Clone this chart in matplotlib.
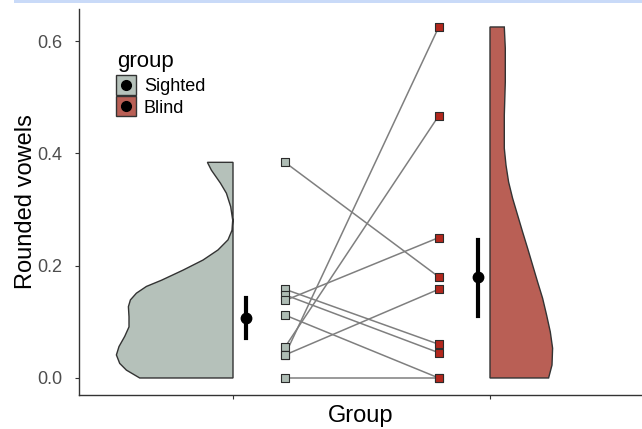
import matplotlib
matplotlib.use("Agg")
import matplotlib.pyplot as plt
from matplotlib.patches import Rectangle
from matplotlib.lines import Line2D
import numpy as np

plt.rcParams['font.family'] = ['Liberation Sans', 'DejaVu Sans']

# ---- data ----
groups = ["Sighted", "Blind"]
sighted = [0.384, 0.158, 0.148, 0.138, 0.112, 0.055, 0.041, 0.041, 0.0]
blind = [0.180, 0.060, 0.045, 0.250, 0.000, 0.467, 0.625, 0.158, 0.0]

sighted_mean, sighted_lo, sighted_hi = 0.106, 0.071, 0.142
blind_mean, blind_lo, blind_hi = 0.179, 0.110, 0.246

# half-violin density profiles (value, relative width)
sighted_dens_y = [0.0, 0.014, 0.026, 0.041, 0.056, 0.074, 0.091, 0.109, 0.127, 0.139,
                  0.151, 0.163, 0.174, 0.192, 0.210, 0.228, 0.246, 0.263, 0.281,
                  0.305, 0.329, 0.347, 0.370, 0.384]
sighted_dens_w = [93.3, 106.6, 113.3, 116.6, 114.0, 108.3, 104.0, 104.0, 104.6, 102.6,
                  96.6, 86.6, 71.6, 50.0, 30.0, 15.0, 5.0, 1.0, 0.3,
                  2.3, 6.6, 12.6, 21.6, 25.6]
blind_dens_y = [0.0, 0.023, 0.053, 0.082, 0.112, 0.142, 0.171, 0.201, 0.231, 0.260,
                0.290, 0.320, 0.349, 0.379, 0.409, 0.468, 0.527, 0.587, 0.625]
blind_dens_w = [58.6, 62.0, 62.6, 60.3, 56.6, 52.6, 47.6, 42.6, 37.6, 32.6,
                27.6, 22.6, 18.6, 16.0, 14.3, 14.3, 15.3, 15.3, 14.3]

yticks = [0.0, 0.2, 0.4, 0.6]

# ---- style ----
c_sighted_v = "#b5c1ba"
c_blind_v = "#b95f55"
c_sighted_p = "#aebcb4"
c_blind_p = "#b3271d"
px_per_unit = 257.0

fig = plt.figure(figsize=(6.42, 4.29), dpi=100)
ax = fig.add_axes([79 / 642, 1 - 395 / 429, 1 - 79 / 642, (395 - 9) / 429])

x_s, x_b = 1.0, 2.0
off_pts = 52 / px_per_unit
off_mean = 12.5 / px_per_unit

# violins
sy = np.array(sighted_dens_y)
sw = np.array(sighted_dens_w) / px_per_unit
ax.fill(np.concatenate([[x_s], x_s - sw, [x_s]]),
        np.concatenate([[sy[0]], sy, [sy[-1]]]),
        facecolor=c_sighted_v, edgecolor="#333333", linewidth=1.0, zorder=2)
by = np.array(blind_dens_y)
bw = np.array(blind_dens_w) / px_per_unit
ax.fill(np.concatenate([[x_b], x_b + bw, [x_b]]),
        np.concatenate([[by[0]], by, [by[-1]]]),
        facecolor=c_blind_v, edgecolor="#333333", linewidth=1.0, zorder=2)

# paired lines
xs_pt = x_s + off_pts
xb_pt = x_b - off_pts + 0.003
for a, b in zip(sighted, blind):
    ax.plot([xs_pt, xb_pt], [a, b], color="#7f7f7f", linewidth=1.1, zorder=3)

ax.scatter([xs_pt] * len(sighted), sighted, marker="s", s=30, facecolor=c_sighted_p,
           edgecolor="#2b2b2b", linewidth=0.8, zorder=4)
ax.scatter([xb_pt] * len(blind), blind, marker="s", s=30, facecolor=c_blind_p,
           edgecolor="#2b2b2b", linewidth=0.8, zorder=4)

# means with error bars
ax.plot([x_s + off_mean] * 2, [sighted_lo, sighted_hi], color="black", linewidth=3, zorder=5)
ax.plot([x_s + off_mean], [sighted_mean], "o", color="black", markersize=7.5, zorder=5)
ax.plot([x_b - off_mean] * 2, [blind_lo, blind_hi], color="black", linewidth=3, zorder=5)
ax.plot([x_b - off_mean], [blind_mean], "o", color="black", markersize=7.5, zorder=5)

# axes
ax.set_xlim(1 - 154 / px_per_unit, 2 + 152 / px_per_unit)
ax.set_ylim(-0.0303, 0.657)
ax.set_xticks([1, 2])
ax.set_xticklabels(["", ""])
ax.set_yticks(yticks)
ax.set_yticklabels([f"{v:.1f}" for v in yticks], color="#4d4d4d", fontsize=13)
ax.tick_params(length=3, color="#333333", width=0.8)
ax.tick_params(axis="y", pad=9)
for s in ["top", "right"]:
    ax.spines[s].set_visible(False)
for s in ["left", "bottom"]:
    ax.spines[s].set_color("#333333")
    ax.spines[s].set_linewidth(1.0)
ax.set_xlabel("Group", fontsize=17, labelpad=1)
ax.set_ylabel("Rounded vowels", fontsize=17, labelpad=0)

# legend
handles = [
    Line2D([], [], marker="s", linestyle="none", markersize=15, markerfacecolor=c_sighted_v,
           markeredgecolor="#333333", markeredgewidth=1.0),
    Line2D([], [], marker="s", linestyle="none", markersize=15, markerfacecolor=c_blind_v,
           markeredgecolor="#333333", markeredgewidth=1.0),
]
dots = [Line2D([], [], marker="o", linestyle="none", markersize=7, color="black")] * 2
ax.text((117 - 79) / 563, (395 - 67) / 386, "group", transform=ax.transAxes,
        fontsize=16, ha="left", va="baseline", color="black")
leg = ax.legend([(h, d) for h, d in zip(handles, dots)], groups,
                loc="upper left", bbox_to_anchor=((116 - 79) / 563, (395 - 78) / 386),
                frameon=False, fontsize=13, handlelength=1.1, handletextpad=0.45,
                labelspacing=0.25, borderaxespad=0, borderpad=0)

# top blue strip
fig.patches.append(Rectangle((14 / 642, 1 - 3 / 429), 1, 3 / 429, transform=fig.transFigure,
                             facecolor="#c9daf8", edgecolor="none", zorder=0))

fig.savefig("out.png", dpi=100)
